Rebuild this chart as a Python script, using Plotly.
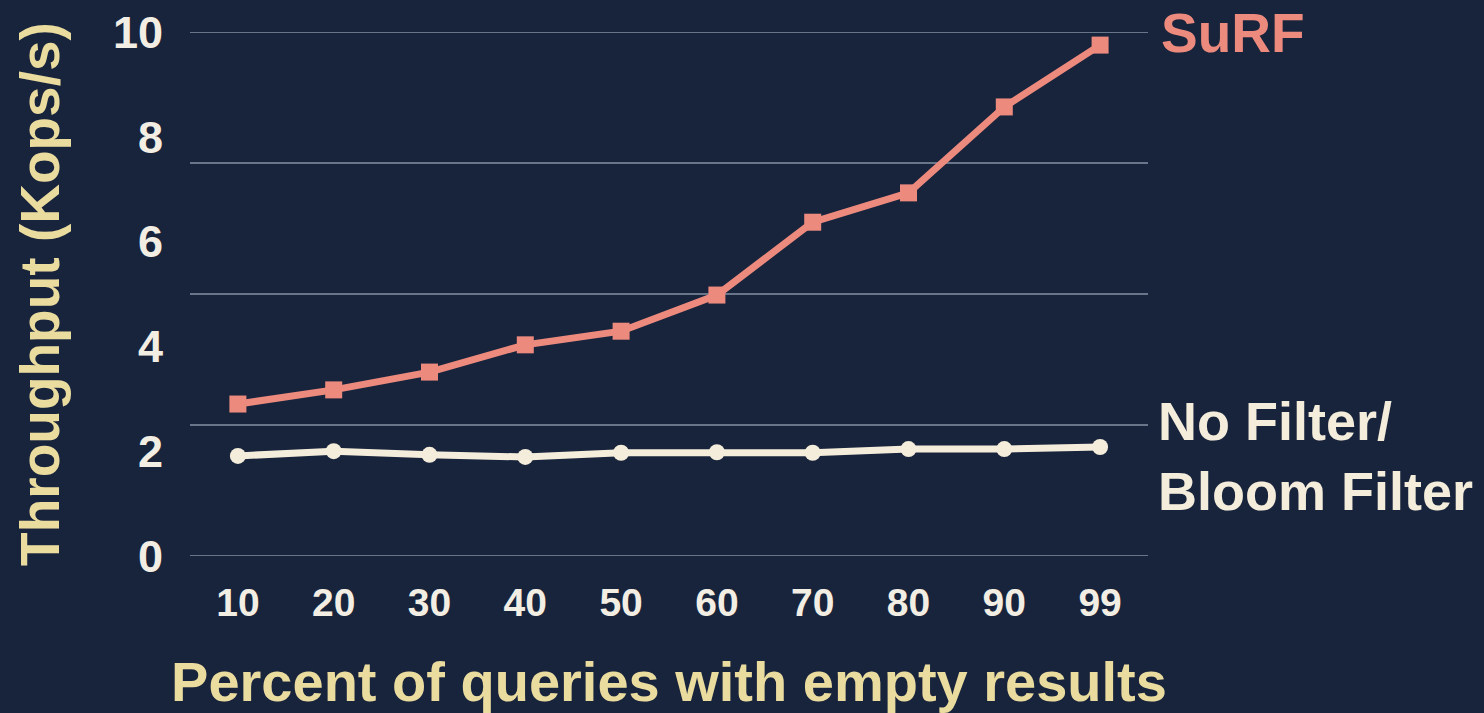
import plotly.graph_objects as go

# Percent of queries that return empty results
pct_empty = ["10", "20", "30", "40", "50", "60", "70", "80", "90", "99"]

# Throughput in Kops/s
surf_kops = [2.90, 3.17, 3.51, 4.03, 4.29, 4.98, 6.37, 6.93, 8.57, 9.75]
nofilter_kops = [1.91, 2.00, 1.93, 1.89, 1.97, 1.98, 1.97, 2.04, 2.04, 2.08]

y_tick_vals = [0, 2, 4, 6, 8, 10]
grid_vals = [0, 2.5, 5, 7.5, 10]

BG = "#18243c"
SALMON = "#ec8a7e"
CREAM = "#f5eddb"
TAN = "#eadb9f"
TICK = "#f3eee4"
GRID = "#8490a3"
FONT = "Liberation Sans, Arial, Helvetica, sans-serif"

fig = go.Figure()

fig.add_trace(go.Scatter(
    x=pct_empty, y=nofilter_kops, mode="lines+markers",
    line=dict(color=CREAM, width=7),
    marker=dict(symbol="circle", size=16, color=CREAM),
    cliponaxis=False, showlegend=False,
))
fig.add_trace(go.Scatter(
    x=pct_empty, y=surf_kops, mode="lines+markers",
    line=dict(color=SALMON, width=7),
    marker=dict(symbol="square", size=17, color=SALMON),
    cliponaxis=False, showlegend=False,
))

# horizontal grid lines every 2.5 units, drawn under the data
for g in grid_vals:
    fig.add_shape(type="line", xref="paper", yref="y", x0=0, x1=1, y0=g, y1=g,
                  line=dict(color=GRID, width=1.5), layer="below")

fig.update_layout(
    width=1484, height=713,
    margin=dict(l=190, r=336, t=32, b=157),
    paper_bgcolor=BG, plot_bgcolor=BG,
    font=dict(family=FONT, color=TICK),
    xaxis=dict(
        type="category", range=[-0.5, len(pct_empty) - 0.5],
        automargin=False,
        showgrid=False, zeroline=False, showline=False,
        ticks="", ticklabelstandoff=20,
        tickfont=dict(size=39, color=TICK, family=FONT, weight="bold"),
        title=dict(text="Percent of queries with empty results",
                   font=dict(size=56, color=TAN, family=FONT, weight="bold"),
                   standoff=45),
    ),
    yaxis=dict(
        range=[0, 10], tickmode="array", tickvals=y_tick_vals,
        automargin=False,
        showgrid=False, zeroline=False, showline=False,
        ticks="", ticklabelstandoff=26,
        tickfont=dict(size=45, color=TICK, family=FONT, weight="bold"),
        title=dict(text="Throughput (Kops/s)",
                   font=dict(size=55, color=TAN, family=FONT, weight="bold"),
                   standoff=35),
    ),
    annotations=[
        dict(text="SuRF", xref="paper", yref="paper", x=1.011, y=0.998,
             xanchor="left", yanchor="middle", showarrow=False,
             font=dict(size=55, color=SALMON, family=FONT, weight="bold")),
        dict(text="No Filter/<br>Bloom Filter", xref="paper", yref="paper",
             x=1.008, y=0.190, xanchor="left", yanchor="middle",
             align="left", showarrow=False,
             font=dict(size=54, color=CREAM, family=FONT, weight="bold")),
    ],
)

fig.write_html("out.html")
